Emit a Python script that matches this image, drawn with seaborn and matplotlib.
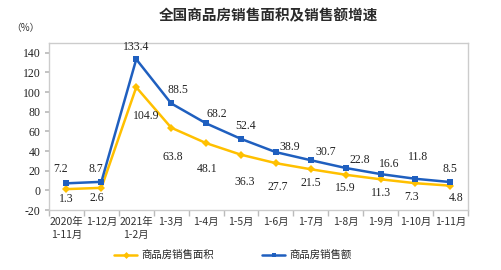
import matplotlib
matplotlib.use("Agg")
import matplotlib.pyplot as plt
import seaborn as sns
import pandas as pd
import numpy as np
from matplotlib.lines import Line2D

categories = ["2020年\n1-11月", "1-12月", "2021年\n1-2月", "1-3月", "1-4月", "1-5月",
              "1-6月", "1-7月", "1-8月", "1-9月", "1-10月", "1-11月"]
area = [1.3, 2.6, 104.9, 63.8, 48.1, 36.3, 27.7, 21.5, 15.9, 11.3, 7.3, 4.8]
sales = [7.2, 8.7, 133.4, 88.5, 68.2, 52.4, 38.9, 30.7, 22.8, 16.6, 11.8, 8.5]
name_area = "商品房销售面积"
name_sales = "商品房销售额"
yticks = [-20, 0, 20, 40, 60, 80, 100, 120, 140]

# label offsets in points (style only)
area_off = [(0, -7), (-3, -7), (7, -21), (1, -21), (1, -19), (3, -20), (1, -17),
            (0, -10), (0, -9.5), (0, -10), (-3, -10), (4, -9)]
sales_off = [(-4, 10), (-4, 9), (0, 9), (5, 10), (8, 7), (3, 9), (10, 4),
             (11, 6), (10, 5.5), (6, 7.5), (2, 16), (0, 9.5)]

sns.set_theme(style="white")
plt.rcParams['font.family'] = ['Noto Sans CJK SC', 'DejaVu Sans']

df = pd.DataFrame({
    "x": list(range(len(categories))) * 2,
    "v": area + sales,
    "s": [name_area] * len(area) + [name_sales] * len(sales),
})

fig = plt.figure(figsize=(5.01, 2.70), dpi=100)
ax = fig.add_axes([0.0978, 0.222, 0.836, 0.619])
yellow = "#FFC000"
blue = "#1F5FBF"
sns.lineplot(data=df, x="x", y="v", hue="s", style="s",
             palette={name_area: yellow, name_sales: blue},
             markers={name_area: "D", name_sales: "s"}, dashes=False,
             markersize=4, linewidth=1.8, markeredgewidth=0, ax=ax, legend=False)

num_font = dict(family=['Liberation Serif'], fontsize=8.5, color="#222222")
for i, v in enumerate(area):
    ax.annotate(f"{v}", (i, v), xytext=area_off[i], textcoords="offset points",
                ha="center", va="center", **num_font)
for i, v in enumerate(sales):
    ax.annotate(f"{v}", (i, v), xytext=sales_off[i], textcoords="offset points",
                ha="center", va="center", **num_font)

ax.set_xlim(-0.5, len(categories) - 0.5)
ax.set_ylim(-20, 150)
ax.set_yticks(yticks)
ax.set_yticklabels([str(t) for t in yticks], family=['Liberation Serif'], fontsize=8.5, color="#222222")
ax.set_xticks(range(len(categories)))
ax.set_xticklabels(categories, fontsize=7.5, color="#333333", linespacing=1.3)
ax.set_xticks(np.arange(-0.5, len(categories), 1), minor=True)
ax.tick_params(axis="x", which="major", length=0, pad=5)
ax.tick_params(axis="x", which="minor", length=4, color="#bbbbbb", direction="out", bottom=True)
ax.tick_params(axis="y", length=3, color="#bbbbbb", left=True, pad=3)
ax.set_xlabel("")
ax.set_ylabel("")
for sp in ax.spines.values():
    sp.set_color("#cccccc")
    sp.set_linewidth(1.0)

fig.text(0.535, 0.945, "全国商品房销售面积及销售额增速", ha="center", va="center",
         fontsize=10.5, fontweight="bold", color="#2a2a2a")
fig.text(0.05, 0.895, "（%）", ha="center", va="center", fontsize=7, color="#333333")

handles = [Line2D([], [], color=yellow, marker="D", markersize=3.5, lw=1.8, markeredgewidth=0),
           Line2D([], [], color=blue, marker="s", markersize=3.5, lw=1.8, markeredgewidth=0)]
fig.legend(handles, [name_area, name_sales], loc="center", bbox_to_anchor=(0.465, 0.055),
           ncol=2, frameon=False, fontsize=7.5, handlelength=2.2, columnspacing=4.6,
           handletextpad=0.4)

fig.savefig("out.png", dpi=100)
